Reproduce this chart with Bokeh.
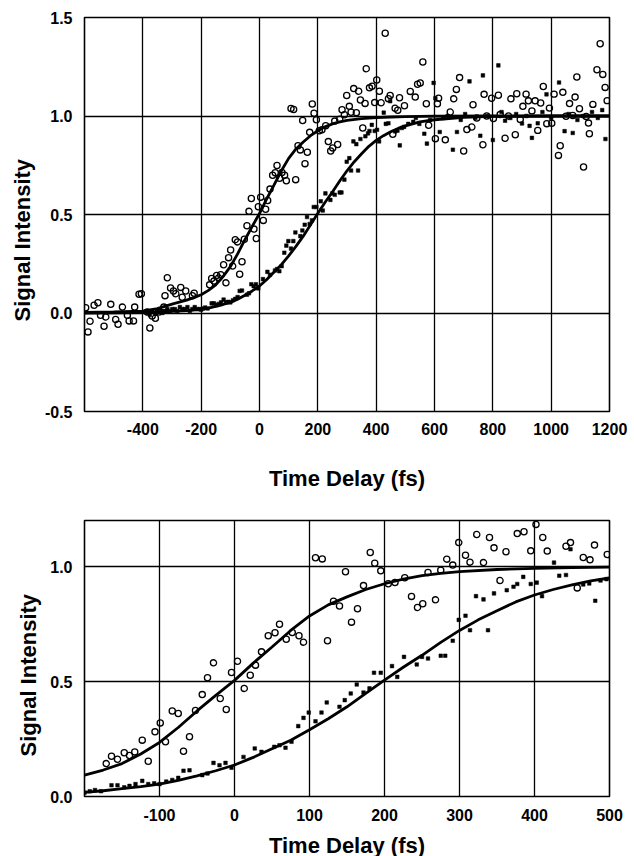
from bokeh.plotting import figure
from bokeh.models import Range1d, FixedTicker, Title
from bokeh.layouts import column
from bokeh.embed import file_html
from bokeh.resources import INLINE

# ---- open-circle series (time delay fs, signal) ----
circ_t = [-596, -588, -581, -567, -554, -545, -533, -527, -510, -493, -485, -470, -453, -447,
          -432, -428, -413, -405, -385, -376, -368, -357, -345, -328, -324, -316, -305, -295,
          -287, -270, -265, -253, -230, -224,
          -171, -164, -156, -147, -140, -133, -123, -115, -106, -99, -92, -83, -75, -68, -60,
          -52, -43, -36, -28, -19, -11, -4, 4, 13, 21, 28, 36, 45, 54, 60, 69, 77, 86, 92,
          108, 117, 124, 132, 140, 148, 156, 164, 172, 181, 187, 195, 205, 214, 227, 236, 244,
          251, 258, 268, 275, 283, 291, 299, 308, 314, 323, 332, 340, 346, 354, 362, 366, 377,
          386, 395, 402, 411, 417, 431, 442, 448, 457, 465, 474, 480, 497,
          517, 534, 542, 551, 560, 572, 580, 603, 610, 614, 637, 654, 666, 675, 686, 700, 711,
          728, 732, 745, 766, 770, 779, 796, 802, 819, 825, 842, 854, 862, 877, 882, 894, 903,
          914, 922, 934, 945, 954, 964, 973, 985, 994, 1002, 1010, 1025, 1031, 1040, 1051, 1063,
          1074, 1082, 1088, 1097, 1111, 1120, 1128, 1131, 1143, 1157, 1168, 1177, 1185, 1192]
circ_v = [0.027, -0.096, -0.042, 0.039, 0.052, -0.012, -0.067, -0.020, 0.044, -0.033, -0.057, 0.030, -0.012, -0.040,
          -0.040, 0.030, 0.095, 0.098, 0.005, -0.076, -0.015, -0.027, 0.005, 0.030, 0.088, 0.179, 0.127, 0.112,
          0.098, 0.130, 0.080, 0.112, 0.088, 0.100,
          0.143, 0.175, 0.162, 0.190, 0.178, 0.194, 0.245, 0.153, 0.281, 0.320, 0.238, 0.372, 0.361, 0.197, 0.260,
          0.374, 0.443, 0.516, 0.581, 0.426, 0.378, 0.539, 0.588, 0.470, 0.527, 0.571, 0.629, 0.699, 0.712, 0.749, 0.684, 0.713, 0.699, 0.671,
          1.038, 1.033, 0.677, 0.849, 0.828, 0.977, 0.758, 0.816, 0.917, 1.061, 1.014, 0.981, 0.925, 0.930, 0.951, 0.870, 0.822,
          0.838, 0.974, 0.855, 0.984, 1.032, 1.006, 1.104, 1.049, 1.019, 1.139, 1.017, 1.126, 1.081, 0.939, 1.064, 1.240, 1.143,
          1.151, 1.068, 1.183, 1.126, 1.067, 1.420, 1.088, 1.104, 0.907, 1.039, 1.029, 1.093, 1.052,
          1.125, 1.096, 1.161, 1.168, 1.274, 1.062, 0.953, 0.885, 1.062, 1.090, 0.879, 1.020, 1.087, 1.135, 1.195, 0.822, 0.931,
          0.944, 1.057, 0.990, 0.854, 1.110, 1.000, 1.090, 0.987, 1.105, 1.007, 0.887, 1.000, 1.087, 0.905, 1.113, 0.982, 1.049,
          1.111, 1.077, 1.026, 1.077, 0.927, 1.066, 1.150, 0.961, 1.040, 0.963, 1.111, 0.800, 0.849, 1.120, 0.999, 1.063,
          1.003, 1.096, 1.198, 1.037, 0.741, 0.998, 0.964, 0.910, 1.059, 1.235, 1.367, 1.211, 1.145, 1.078]

# ---- filled-square series ----
sq_t = [-385, -376, -368, -359, -350, -342, -333, -325, -316, -308, -299, -290, -282, -273, -265,
        -256, -247, -239, -230, -222, -213, -205,
        -200, -193, -186, -178, -164, -156, -147, -140, -132, -123, -115, -107, -100, -91, -83, -75,
        -68, -60, -43, -36, -28, -20, -12, -4, 12, 27, 36, 53, 60, 68, 76, 85, 92, 99, 108, 116,
        123, 140, 147, 155, 163, 172, 180, 186, 195, 210, 217, 226, 243, 250, 258, 275, 281, 291,
        299, 308, 314, 322, 332, 338, 346, 363, 372, 377, 385, 395, 403, 410, 426, 433, 442, 448,
        465, 473, 481, 488, 496,
        510, 527, 536, 548, 565, 574, 585, 597, 603, 618, 630, 645, 663, 677, 690, 705, 720, 740,
        757, 766, 780, 800, 819, 830, 842, 860, 880, 900, 915, 926, 934, 954, 970, 984, 1000,
        1027, 1046, 1060, 1074, 1090, 1110, 1140, 1160, 1175, 1186]
sq_v = [0.000, -0.010, 0.010, 0.000, 0.010, 0.020, 0.000, 0.010, 0.020, 0.010, 0.020, 0.020, 0.010, 0.030, 0.020,
        0.020, 0.030, 0.010, 0.020, 0.030, 0.020, 0.020,
        0.017, 0.023, 0.028, 0.023, 0.049, 0.049, 0.040, 0.046, 0.054, 0.068, 0.054, 0.057, 0.054, 0.065, 0.072, 0.081,
        0.112, 0.114, 0.093, 0.100, 0.146, 0.136, 0.146, 0.125, 0.172, 0.209, 0.194, 0.216, 0.223, 0.212, 0.238, 0.306, 0.342, 0.365, 0.327, 0.365,
        0.409, 0.390, 0.419, 0.448, 0.487, 0.452, 0.470, 0.538, 0.538, 0.567, 0.520, 0.607, 0.574, 0.607, 0.600, 0.612, 0.612, 0.677,
        0.768, 0.786, 0.723, 0.871, 0.857, 0.723, 0.883, 0.897, 0.912, 0.924, 0.955, 0.924, 0.930, 0.871, 1.017, 0.960, 0.963, 1.075,
        0.922, 0.926, 0.851, 0.939, 0.945,
        0.960, 0.970, 0.990, 0.960, 0.910, 0.860, 0.980, 1.168, 1.090, 0.919, 0.990, 1.000, 0.829, 0.919, 0.980, 1.010, 1.176, 0.990,
        0.900, 1.206, 1.000, 0.878, 1.257, 1.020, 0.976, 0.990, 1.010, 0.962, 1.000, 0.950, 0.889, 0.963, 1.020, 1.110, 0.990,
        1.170, 0.923, 1.010, 0.914, 0.980, 1.000, 1.020, 0.990, 1.030, 0.883]

# ---- fitted curves ----
fitA_t = [-600, -500, -400, -350, -300, -250, -225, -200, -175, -150, -125, -100, -75, -50, -25, 0,
          25, 50, 75, 100, 125, 150, 175, 200, 225, 250, 275, 300, 350, 400, 450, 500, 600, 800, 1000, 1200]
fitA_v = [0.003, 0.005, 0.010, 0.022, 0.045, 0.065, 0.078, 0.093, 0.115, 0.143, 0.185, 0.235, 0.300, 0.372, 0.440, 0.505,
          0.580, 0.650, 0.722, 0.785, 0.833, 0.868, 0.900, 0.925, 0.945, 0.960, 0.970, 0.978, 0.987, 0.992, 0.995, 0.997, 0.999, 1.000, 1.000, 1.000]
fitB_t = [-600, -400, -300, -250, -200, -175, -150, -125, -100, -75, -50, -25, 0, 25, 50, 75, 100, 125, 150,
          175, 200, 225, 250, 275, 300, 325, 350, 375, 400, 425, 450, 475, 500, 550, 600, 700, 800, 1000, 1200]
fitB_v = [0.000, 0.002, 0.008, 0.012, 0.018, 0.025, 0.034, 0.043, 0.054, 0.070, 0.090, 0.112, 0.137, 0.170, 0.208, 0.245, 0.290, 0.338, 0.390,
          0.448, 0.506, 0.562, 0.614, 0.670, 0.722, 0.768, 0.808, 0.846, 0.876, 0.900, 0.920, 0.937, 0.950, 0.970, 0.981, 0.993, 0.998, 1.000, 1.000]

# ---- axes ----
top_xticks = [-400, -200, 0, 200, 400, 600, 800, 1000, 1200]
top_yticks = [-0.5, 0.0, 0.5, 1.0, 1.5]
bot_xticks = [-100, 0, 100, 200, 300, 400, 500]
bot_yticks = [0.0, 0.5, 1.0]
y_title = "Signal Intensity"
x_title = "Time Delay (fs)"

FONT = "Liberation Sans"


def make(xr, yr, xticks, yticks, frame_h, top_border, tick_standoff, label_standoff, title_offset):
    p = figure(x_range=Range1d(*xr), y_range=Range1d(*yr), frame_width=525, frame_height=frame_h,
               min_border_left=83, min_border_right=24, min_border_top=top_border, min_border_bottom=0,
               output_backend="svg", toolbar_location=None)
    p.outline_line_color = "black"
    p.outline_line_width = 1.6
    p.outline_line_alpha = 1.0
    p.background_fill_color = "white"
    p.border_fill_color = "white"

    p.xaxis.ticker = FixedTicker(ticks=xticks)
    p.yaxis.ticker = FixedTicker(ticks=yticks)
    p.xaxis.major_label_overrides = {t: str(t) for t in xticks}
    p.yaxis.major_label_overrides = {t: f"{t:.1f}" for t in yticks}
    for ax in (p.xaxis, p.yaxis):
        ax.axis_line_color = None
        ax.major_tick_line_color = None
        ax.minor_tick_line_color = None
        ax.major_label_text_font = FONT
        ax.major_label_text_font_style = "bold"
        ax.major_label_text_font_size = "16px"
        ax.major_label_text_color = "black"
    p.xaxis.major_label_standoff = tick_standoff
    p.yaxis.major_label_standoff = 6
    p.xaxis.axis_label = x_title
    p.xaxis.axis_label_text_font = FONT
    p.xaxis.axis_label_text_font_style = "bold"
    p.xaxis.axis_label_text_font_size = "22px"
    p.xaxis.axis_label_text_color = "black"
    p.xaxis.axis_label_standoff = label_standoff

    p.add_layout(Title(text=y_title, align="left", offset=title_offset, standoff=14,
                       text_font=FONT, text_font_style="bold", text_font_size="22px",
                       text_color="black"), "left")

    for g in (p.xgrid, p.ygrid):
        g.grid_line_color = "black"
        g.grid_line_width = 1.3
        g.grid_line_alpha = 1.0

    p.line(fitA_t, fitA_v, line_color="black", line_width=2.8)
    p.line(fitB_t, fitB_v, line_color="black", line_width=2.8)
    p.scatter(sq_t, sq_v, marker="square", size=3.6, fill_color="black", line_color="black", line_width=0.5)
    p.scatter(circ_t, circ_v, marker="circle", size=6.2, fill_color=None, line_color="black", line_width=1.3)
    return p


p1 = make((-600, 1200), (-0.5, 1.5), top_xticks, top_yticks, 394, 17, 5, 28, 90)
p2 = make((-200, 500), (0.0, 1.2), bot_xticks, bot_yticks, 276, 27, 6, 9, 40)

layout = column(p1, p2, spacing=0)
open("out.html", "w").write(file_html(layout, INLINE))
